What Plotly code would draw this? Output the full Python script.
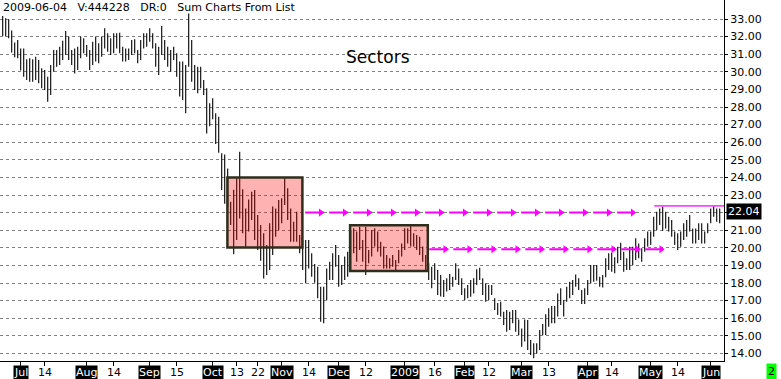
import pandas as pd
import plotly.graph_objects as go

# ---------------- data ----------------
holidays = ["2008-07-04", "2008-09-01", "2008-11-27", "2008-12-25", "2009-01-01",
            "2009-01-19", "2009-02-16", "2009-04-10", "2009-05-25"]
dates = pd.bdate_range("2008-06-23", "2009-06-04", freq="C", holidays=holidays)

highs = [
    33.17, 33.04, 32.98, 32.34, 31.66, 31.81, 31.33, 31.33, 30.71, 30.77,
    30.71, 30.86, 30.67, 30.20, 30.10, 29.72, 30.39, 31.24, 31.24, 31.43,
    31.77, 32.32, 32.00, 31.24, 31.33, 31.43, 32.00, 31.90, 31.52, 31.24,
    31.71, 32.00, 31.62, 32.00, 32.47, 32.19, 31.90, 32.19, 32.19, 32.22,
    31.43, 31.33, 31.33, 31.81, 31.85, 31.24, 31.81, 32.19, 32.19, 32.47,
    32.19, 31.62, 31.43, 32.60, 31.81, 31.43, 31.24, 31.43, 31.05, 30.58,
    30.58, 30.39, 33.32, 31.81, 30.39, 30.29, 30.29, 29.53, 29.06, 28.21,
    28.50, 27.64, 27.45, 25.37, 25.30, 24.50, 22.62, 23.30, 23.95, 25.46,
    23.32, 22.24, 22.75, 23.19, 23.28, 21.86, 21.30, 20.82, 20.16, 21.39,
    22.34, 22.24, 22.72, 22.81, 23.95, 23.38, 22.24, 21.48, 22.05, 20.73,
    20.44, 20.44, 20.44, 19.69, 19.08, 18.93, 17.79, 17.79, 18.83, 19.21,
    19.69, 20.16, 19.59, 19.02, 19.50, 19.78, 21.00, 21.11, 20.92, 21.20,
    20.44, 21.20, 19.87, 21.01, 21.11, 20.92, 20.35, 20.07, 19.59, 19.40,
    19.59, 19.31, 19.87, 20.25, 21.11, 21.11, 21.35, 20.82, 20.73, 20.63,
    20.07, 19.59, 19.12, 18.93, 19.12, 18.74, 18.46, 18.17, 18.27, 18.51,
    18.36, 19.12, 18.83, 18.27, 17.70, 17.89, 18.17, 18.27, 18.78, 18.87,
    18.27, 17.98, 17.89, 17.89, 17.13, 16.86, 16.94, 16.37, 16.47, 16.37,
    16.47, 16.47, 15.93, 15.42, 15.93, 15.90, 14.76, 14.57, 14.57, 15.33,
    15.67, 16.22, 16.56, 16.69, 16.69, 17.41, 17.70, 17.03, 17.79, 18.07,
    18.17, 18.49, 18.27, 17.60, 17.70, 18.17, 19.02, 19.02, 19.02, 18.36,
    18.45, 19.40, 19.69, 19.72, 19.46, 20.06, 20.29, 19.78, 19.40, 20.06,
    20.06, 20.54, 20.25, 19.97, 20.54, 20.92, 20.92, 21.77, 22.05, 22.24,
    22.34, 22.05, 21.77, 21.58, 20.92, 20.82, 20.92, 21.39, 21.58, 21.86,
    21.10, 21.10, 21.39, 21.39, 20.92, 21.39, 22.24, 22.43, 22.24, 22.24,
]
lows = [
    32.03, 32.00, 31.90, 31.09, 30.82, 30.77, 30.07, 29.72, 29.53, 29.44,
    29.44, 29.53, 29.35, 29.06, 28.97, 28.30, 28.68, 30.01, 30.29, 30.39,
    30.67, 30.95, 30.67, 30.39, 29.91, 30.10, 30.77, 31.05, 30.86, 30.10,
    30.39, 30.58, 30.48, 30.86, 31.33, 31.14, 30.95, 31.05, 31.33, 31.05,
    30.58, 30.58, 30.67, 30.95, 31.05, 30.48, 30.67, 31.33, 31.43, 31.71,
    31.33, 30.29, 29.82, 30.95, 30.67, 30.29, 30.01, 30.67, 29.72, 28.59,
    28.40, 27.64, 30.29, 29.44, 28.97, 28.78, 29.06, 28.68, 26.50, 26.90,
    27.30, 25.90, 25.40, 23.28, 22.50, 22.30, 21.30, 19.63, 20.44, 21.67,
    20.82, 20.06, 20.92, 21.58, 20.44, 19.87, 19.27, 18.26, 18.46, 18.74,
    19.59, 20.63, 21.00, 21.39, 22.43, 21.58, 20.35, 20.35, 20.35, 19.69,
    18.74, 17.98, 18.83, 18.36, 18.02, 17.13, 15.80, 15.71, 17.03, 18.17,
    18.17, 18.93, 17.79, 17.89, 18.17, 18.36, 18.74, 19.69, 19.21, 19.87,
    19.21, 18.46, 19.12, 19.50, 20.07, 19.78, 19.50, 18.83, 18.83, 18.83,
    18.93, 18.64, 19.12, 19.50, 19.87, 20.25, 20.07, 20.07, 19.87, 19.59,
    19.21, 18.64, 18.17, 17.70, 18.17, 17.32, 17.23, 17.20, 17.51, 17.60,
    17.79, 18.17, 17.89, 17.32, 17.03, 17.13, 17.22, 17.41, 17.89, 18.17,
    17.32, 16.94, 17.03, 17.32, 16.47, 16.18, 16.09, 15.61, 15.23, 15.33,
    15.71, 15.23, 15.04, 14.38, 14.67, 14.19, 13.91, 13.72, 14.00, 14.19,
    15.04, 15.04, 15.52, 15.71, 15.71, 16.09, 16.75, 16.09, 16.94, 17.13,
    17.32, 17.79, 17.60, 16.81, 16.81, 17.32, 17.98, 18.07, 18.13, 17.79,
    17.75, 18.32, 18.74, 18.64, 18.55, 19.12, 19.31, 18.64, 18.74, 18.74,
    19.02, 19.31, 19.40, 19.21, 19.78, 20.06, 20.16, 20.63, 21.01, 21.30,
    20.97, 21.10, 20.92, 20.63, 20.16, 19.87, 20.06, 20.44, 20.63, 20.92,
    20.25, 20.25, 20.44, 20.25, 20.25, 20.82, 21.39, 21.77, 21.48, 21.39,
]

last_close = 22.04
price_ticks = list(range(14, 34))

tick_dates = ["2008-07-01", "2008-07-14", "2008-08-01", "2008-08-14", "2008-09-02",
              "2008-09-15", "2008-10-01", "2008-10-13", "2008-10-22", "2008-11-03",
              "2008-11-14", "2008-12-01", "2008-12-12", "2009-01-02", "2009-01-16",
              "2009-02-02", "2009-02-12", "2009-03-02", "2009-03-13", "2009-04-01",
              "2009-04-14", "2009-05-01", "2009-05-14", "2009-06-01"]
tick_labels = ["Jul", "14", "Aug", "14", "Sep", "15", "Oct", "13", "22", "Nov", "14",
               "Dec", "12", "2009", "16", "Feb", "12", "Mar", "13", "Apr", "14",
               "May", "14", "Jun"]
tick_is_month = [True, False, True, False, True, False, True, False, False, True, False,
                 True, False, True, False, True, False, True, False, True, False,
                 True, False, True]

# consolidation boxes (bar index span, price span)
box_x0 = [74.9, 115.8]
box_x1 = [99.9, 141.7]
box_y0 = [20.02, 18.68]
box_y1 = [24.00, 21.28]

# projected levels (price, start index, first arrow index, last arrow index)
level_prices = [22.00, 19.92]
level_starts = [100.8, 142.2]
level_arrow_first = [106.0, 147.5]
level_arrow_last = [210.0, 219.5]

resistance_price = 22.38
resistance_start = 217.2

# ---------------- figure ----------------
FONT = "DejaVu Sans"
n = len(dates)
idx = {d.strftime("%Y-%m-%d"): i for i, d in enumerate(dates)}
X_MIN, X_MAX = -0.9, 240.43
Y_MIN, Y_MAX = 13.568, 34.08

bx, by = [], []
for i in range(n):
    bx += [i, i, None]
    by += [lows[i], highs[i], None]

fig = go.Figure()
fig.add_trace(go.Scatter(x=bx, y=by, mode="lines",
                         line=dict(color="black", width=1.1),
                         hoverinfo="skip", showlegend=False))

for p, s, a0, a1 in zip(level_prices, level_starts, level_arrow_first, level_arrow_last):
    fig.add_trace(go.Scatter(x=[s, a1 + 0.3], y=[p, p], mode="lines",
                             line=dict(color="#ff00ff", width=2, dash="19px,5px"),
                             hoverinfo="skip", showlegend=False))
    ax = []
    a = a0
    while a <= a1 + 0.01:
        ax.append(a)
        a += 8
    fig.add_trace(go.Scatter(x=ax, y=[p] * len(ax), mode="markers",
                             marker=dict(symbol="triangle-right", size=7, color="#ff00ff",
                                         line=dict(width=0)),
                             hoverinfo="skip", showlegend=False))

fig.add_trace(go.Scatter(x=[resistance_start, X_MAX], y=[resistance_price] * 2,
                         mode="lines", line=dict(color="#ff44ff", width=1.6),
                         hoverinfo="skip", showlegend=False))

for x0, x1, y0, y1 in zip(box_x0, box_x1, box_y0, box_y1):
    fig.add_shape(type="rect", xref="x", yref="y", x0=x0, x1=x1, y0=y0, y1=y1,
                  fillcolor="rgba(255,0,0,0.3)", layer="above",
                  line=dict(color="#2e2e1c", width=2.5))

tickvals = [idx[d] for d in tick_dates]

annotations = []
for v, lab, m in zip(tickvals, tick_labels, tick_is_month):
    annotations.append(dict(
        x=v, xref="x", y=0, yref="paper", yanchor="top", xanchor="center",
        yshift=-4, text=lab, showarrow=False,
        font=dict(family=FONT, size=11, color="white" if m else "black"),
        bgcolor="black" if m else None, borderpad=0))

annotations.append(dict(x=1, xref="paper", xanchor="left", xshift=2,
                        y=last_close, yref="y", yanchor="middle",
                        text=f"{last_close:.2f}", showarrow=False,
                        font=dict(family=FONT, size=11, color="white"),
                        bgcolor="black", borderpad=1))
annotations.append(dict(x=771 / 724, xref="paper", xanchor="center",
                        y=-10 / 361, yref="paper", yanchor="middle",
                        text="2", showarrow=False,
                        font=dict(family=FONT, size=11, color="black"),
                        bgcolor="#00ff00", borderpad=1))
annotations.append(dict(x=378 / 724, xref="paper", xanchor="center",
                        y=1 - 57 / 361, yref="paper", yanchor="middle",
                        text="Sectors", showarrow=False,
                        font=dict(family=FONT, size=17, color="black")))
sp = "\u00a0\u00a0\u00a0"
annotations.append(dict(x=0, xref="paper", xanchor="left", xshift=1,
                        y=1, yref="paper", yanchor="top", yshift=1,
                        text=f"2009-06-04{sp}V:444228{sp}DR:0{sp}Sum Charts From List",
                        showarrow=False,
                        font=dict(family=FONT, size=11, color="black")))

fig.update_layout(
    width=781, height=379,
    margin=dict(l=0, r=57, t=0, b=18, autoexpand=False),
    paper_bgcolor="white", plot_bgcolor="white",
    showlegend=False,
    annotations=annotations,
    xaxis=dict(range=[X_MIN, X_MAX], tickvals=tickvals, showticklabels=False,
               ticks="outside", ticklen=4, tickcolor="black", tickwidth=1,
               showline=True, linecolor="black", linewidth=1, automargin=False,
               showgrid=False, zeroline=False, fixedrange=True),
    yaxis=dict(range=[Y_MIN, Y_MAX], side="right", automargin=False,
               tickvals=price_ticks,
               ticktext=["" if abs(v - last_close) < 0.5 else f"{v:.2f}" for v in price_ticks],
               tickfont=dict(family=FONT, size=11, color="black"),
               ticks="outside", ticklen=3, tickcolor="black",
               showline=True, linecolor="black", linewidth=1,
               showgrid=True, gridcolor="#808080", gridwidth=1, griddash="3px,3px",
               zeroline=False, fixedrange=True),
)

fig.write_html("out.html", config={"displayModeBar": False},
               post_script="document.body.style.margin='0';document.body.style.overflow='hidden';")
